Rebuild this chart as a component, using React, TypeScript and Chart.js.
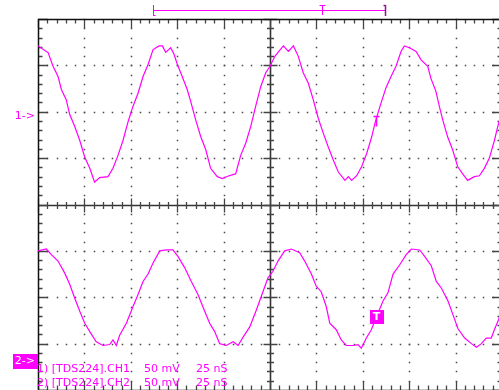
import React, { useEffect, useRef } from "react";
import { Chart, registerables } from "chart.js";

Chart.register(...registerables);

// Time axis (ns) and voltage axis (mV): 10 x 8 divisions, 25 ns/div, 50 mV/div
const timeRange = [-125, 125];
const voltRange = [-200, 200];
const timeDiv = 25;
const voltDiv = 50;
const minorPerDiv = 5;

// Channel 1 trace
const ch1Time = [-125, -120.5, -119.6, -116.9, -114.2, -112.4, -109.8, -107.9, -105.2, -102.5, -99.8, -97.1, -94.5, -91.8, -87.3, -84.6, -81.9, -79.2, -76.5, -73.8, -71.1, -68.4, -65.7, -63.0, -59.8, -58.0, -56.2, -53.5, -51.7, -49.9, -47.3, -44.6, -42.7, -40.0, -37.3, -34.6, -32.0, -28.4, -25.7, -22.1, -18.5, -15.8, -13.1, -10.4, -7.7, -5.0, -2.3, 0, 2.7, 7.2, 9.9, 12.6, 15.2, 17.9, 20.6, 23.3, 26.0, 28.7, 31.4, 34.1, 36.8, 40.4, 42.2, 44.0, 46.7, 49.4, 52.1, 54.8, 56.6, 59.3, 62.5, 65.2, 67.9, 70.6, 72.4, 75.1, 78.7, 81.4, 85.0, 86.7, 89.4, 91.2, 93.1, 95.7, 98.4, 101.1, 103.8, 106.5, 110.1, 112.8, 115.5, 118.2, 120.9, 122.7, 125];
const ch1Volt = [171, 165, 164, 149, 138, 124, 113, 97, 84, 69, 51, 39, 24, 29, 30, 39, 53, 69, 89, 106, 120, 138, 151, 167, 171, 171, 164, 169, 162, 151, 138, 124, 111, 91, 73, 59, 39, 30, 28, 31, 33, 53, 66, 84, 106, 127, 142, 149, 160, 171, 165, 171, 160, 142, 131, 113, 93, 77, 62, 48, 35, 26, 30, 26, 31, 41, 55, 73, 88, 106, 126, 138, 149, 165, 171, 169, 165, 156, 149, 136, 122, 106, 91, 73, 59, 41, 33, 26, 30, 31, 39, 50, 69, 84, 100];

// Channel 2 trace
const ch2Time = [-125, -120.5, -117.8, -114.2, -110.6, -107.9, -105.2, -102.5, -99.8, -97.1, -93.6, -90.0, -86.4, -84.6, -82.8, -81.0, -77.4, -73.8, -71.1, -68.4, -65.7, -63.0, -59.4, -55.9, -52.3, -49.6, -46.0, -42.4, -38.8, -35.2, -32.5, -29.8, -27.1, -23.5, -19.9, -17.2, -14.5, -10.9, -7.4, -3.8, -1.1, 1.6, 4.3, 7.9, 11.5, 16.0, 18.7, 22.3, 24.9, 27.6, 30.3, 32.2, 35.7, 38.4, 41.1, 44.7, 47.4, 49.2, 51.9, 54.6, 58.2, 60.9, 63.6, 66.3, 69.9, 73.4, 76.1, 80.7, 83.3, 86.9, 89.6, 92.3, 95.9, 98.6, 101.3, 104.9, 108.5, 111.2, 113.9, 116.5, 119.2, 121.1, 123.2, 125];
const ch2Volt = [-50, -48, -54, -61, -74, -86, -101, -115, -128, -137, -148, -152, -151, -146, -152, -141, -128, -110, -97, -83, -75, -63, -50, -49, -49, -56, -68, -83, -97, -115, -128, -137, -150, -152, -148, -152, -143, -132, -114, -94, -79, -72, -61, -50, -48, -52, -61, -75, -88, -94, -110, -128, -135, -146, -152, -152, -151, -155, -144, -135, -117, -104, -95, -75, -65, -54, -48, -49, -56, -66, -83, -90, -104, -119, -134, -144, -150, -154, -150, -144, -144, -134, -124, -113];

// Labels
const channelLabels = ["1) [TDS224].CH1", "2) [TDS224].CH2"];
const voltsLabel = "50 mV";
const timeLabel = "25 nS";
const refLabels = ["1->", "2->"];
const refLevels = [95, -169];
const triggerTime = 57;
const triggerLevelCh1 = 95;
const triggerLevelCh2 = -121;
const windowRange = [-63, 62];
const windowTrigger = 28;

const MAG = "#ff00ff";

const scopeGrid = {
  id: "scopeGrid",
  beforeDatasetsDraw(chart: any) {
    const { ctx, chartArea: a, scales } = chart;
    const xs = scales.x;
    const ys = scales.y;
    const X = (v: number) => xs.getPixelForValue(v);
    const Y = (v: number) => ys.getPixelForValue(v);
    const crisp = (p: number) => Math.round(p) + 0.5;
    ctx.save();
    const xMinor = timeDiv / minorPerDiv;
    const yMinor = voltDiv / minorPerDiv;
    // dotted grid
    ctx.fillStyle = "#4a4a4a";
    for (let t = timeRange[0] + timeDiv; t < timeRange[1]; t += timeDiv) {
      if (t === 0) continue;
      const px = Math.round(X(t));
      for (let v = voltRange[0]; v <= voltRange[1]; v += yMinor) {
        ctx.fillRect(px - 0.25, Math.round(Y(v)) - 0.25, 1.5, 1.5);
      }
    }
    for (let v = voltRange[0] + voltDiv; v < voltRange[1]; v += voltDiv) {
      if (v === 0) continue;
      const py = Math.round(Y(v));
      for (let t = timeRange[0]; t <= timeRange[1]; t += xMinor) {
        ctx.fillRect(Math.round(X(t)) - 0.25, py - 0.25, 1.5, 1.5);
      }
    }
    // center axes
    const cx = crisp(X(0));
    const cy = crisp(Y(0));
    ctx.strokeStyle = "#333";
    ctx.lineWidth = 1.6;
    ctx.beginPath();
    ctx.moveTo(a.left, cy);
    ctx.lineTo(a.right, cy);
    ctx.moveTo(cx, a.top);
    ctx.lineTo(cx, a.bottom);
    ctx.stroke();
    // ticks
    ctx.strokeStyle = "#444";
    ctx.lineWidth = 1.3;
    ctx.beginPath();
    let i = 0;
    for (let t = timeRange[0]; t <= timeRange[1] + 0.001; t += xMinor, i++) {
      const major = i % minorPerDiv === 0;
      const px = crisp(X(t));
      const edge = major ? 9 : 4.5;
      const mid = major ? 7 : 3.5;
      ctx.moveTo(px, a.top);
      ctx.lineTo(px, a.top + edge);
      ctx.moveTo(px, a.bottom);
      ctx.lineTo(px, a.bottom - edge);
      ctx.moveTo(px, cy - mid);
      ctx.lineTo(px, cy + mid);
    }
    i = 0;
    for (let v = voltRange[0]; v <= voltRange[1] + 0.001; v += yMinor, i++) {
      const major = i % minorPerDiv === 0;
      const py = crisp(Y(v));
      const edge = major ? 10 : 4.5;
      const mid = major ? 7 : 3.5;
      ctx.moveTo(a.left, py);
      ctx.lineTo(a.left + edge, py);
      ctx.moveTo(a.right, py);
      ctx.lineTo(a.right - edge, py);
      ctx.moveTo(cx - mid, py);
      ctx.lineTo(cx + mid, py);
    }
    ctx.stroke();
    // border
    ctx.strokeStyle = "#111";
    ctx.lineWidth = 1.5;
    ctx.strokeRect(crisp(a.left), crisp(a.top), Math.round(a.right - a.left), Math.round(a.bottom - a.top));
    ctx.restore();
  },
  afterDatasetsDraw(chart: any) {
    const { ctx, scales } = chart;
    const X = (v: number) => scales.x.getPixelForValue(v);
    const Y = (v: number) => scales.y.getPixelForValue(v);
    ctx.save();
    // record window indicator at top
    const wl = Math.round(X(windowRange[0])) + 0.5;
    const wr = Math.round(X(windowRange[1])) + 0.5;
    const wt = Math.round(X(windowTrigger)) + 0.5;
    ctx.strokeStyle = MAG;
    ctx.lineWidth = 1;
    ctx.beginPath();
    ctx.moveTo(wl, 10.5);
    ctx.lineTo(wr, 10.5);
    ctx.moveTo(wl, 5);
    ctx.lineTo(wl, 16);
    ctx.moveTo(wl, 15.5);
    ctx.lineTo(wl + 2, 15.5);
    ctx.moveTo(wt - 3, 5.5);
    ctx.lineTo(wt + 3, 5.5);
    ctx.moveTo(wt, 5);
    ctx.lineTo(wt, 15);
    ctx.stroke();
    ctx.strokeStyle = "#8a1a8a";
    ctx.lineWidth = 1.5;
    ctx.beginPath();
    ctx.moveTo(wr, 5);
    ctx.lineTo(wr, 16);
    ctx.moveTo(wr - 2, 5.5);
    ctx.lineTo(wr, 5.5);
    ctx.stroke();

    // trigger marker on channel 1
    const tx = Math.round(X(triggerTime)) + 0.5;
    const ty = Math.round(Y(triggerLevelCh1)) + 0.5;
    ctx.strokeStyle = MAG;
    ctx.lineWidth = 1.5;
    ctx.beginPath();
    ctx.moveTo(tx - 3, ty);
    ctx.lineTo(tx + 3, ty);
    ctx.moveTo(tx, ty);
    ctx.lineTo(tx, ty + 10);
    ctx.stroke();

    // trigger box on channel 2
    const by = Y(triggerLevelCh2);
    ctx.fillStyle = MAG;
    ctx.fillRect(Math.round(tx - 7), Math.round(by - 7), 14, 14);
    ctx.fillStyle = "#fff";
    ctx.font = "bold 11px 'DejaVu Sans'";
    ctx.textAlign = "center";
    ctx.textBaseline = "middle";
    ctx.fillText("T", tx, by + 0.5);

    // reference markers
    ctx.font = "11px 'DejaVu Sans'";
    ctx.textAlign = "right";
    ctx.textBaseline = "middle";
    ctx.fillStyle = MAG;
    ctx.fillText(refLabels[0], 35, Y(refLevels[0]));
    const r2 = Y(refLevels[1]);
    ctx.fillRect(13, Math.round(r2 - 7.5), 25, 15);
    ctx.fillStyle = "#fff";
    ctx.fillText(refLabels[1], 35, r2);

    // channel settings text
    ctx.fillStyle = MAG;
    ctx.textAlign = "left";
    ctx.textBaseline = "alphabetic";
    const baselines = [372, 386];
    channelLabels.forEach((lab, k) => {
      ctx.fillText(lab, 37, baselines[k]);
      ctx.fillText(voltsLabel, 144, baselines[k]);
      ctx.fillText(timeLabel, 196, baselines[k]);
    });
    ctx.restore();
  },
};

export default function App() {
  const ref = useRef<HTMLCanvasElement | null>(null);
  useEffect(() => {
    if (!ref.current) return;
    const chart = new Chart(ref.current, {
      type: "scatter",
      data: {
        datasets: [
          {
            label: "CH1",
            data: ch1Time.map((t, i) => ({ x: t, y: ch1Volt[i] })),
            showLine: true,
            borderColor: MAG,
            borderWidth: 1.2,
            pointRadius: 0,
            fill: false,
            tension: 0,
          },
          {
            label: "CH2",
            data: ch2Time.map((t, i) => ({ x: t, y: ch2Volt[i] })),
            showLine: true,
            borderColor: MAG,
            borderWidth: 1.2,
            pointRadius: 0,
            fill: false,
            tension: 0,
          },
        ],
      },
      options: {
        animation: false,
        responsive: false,
        devicePixelRatio: 1,
        layout: { padding: { left: 38, top: 19, right: 10, bottom: 0 } },
        plugins: { legend: { display: false }, tooltip: { enabled: false } },
        scales: {
          x: { type: "linear", min: timeRange[0], max: timeRange[1], display: false },
          y: { type: "linear", min: voltRange[0], max: voltRange[1], display: false },
        },
      },
      plugins: [scopeGrid],
    });
    return () => chart.destroy();
  }, []);
  return (
    <div
      style={{
        position: "fixed",
        left: 0,
        top: 0,
        width: 499,
        height: 390,
        overflow: "hidden",
        background: "#fff",
      }}
    >
      <canvas ref={ref} width={512} height={390} style={{ display: "block" }} />
    </div>
  );
}
